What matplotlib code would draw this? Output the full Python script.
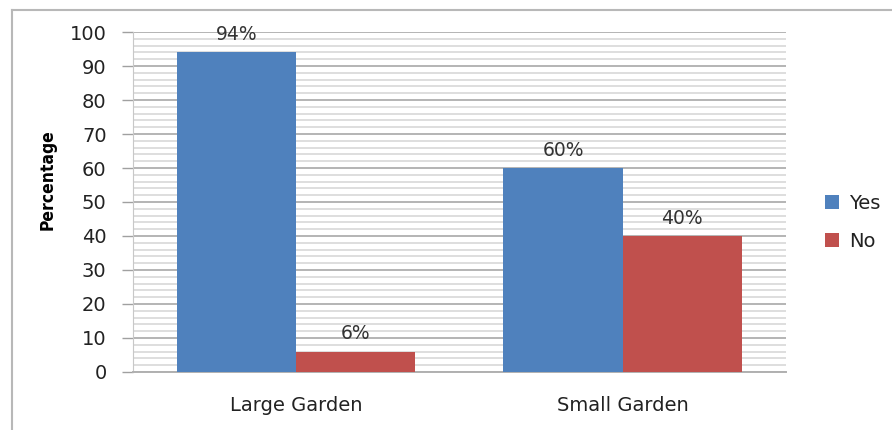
import matplotlib
matplotlib.use("Agg")
import matplotlib.pyplot as plt
from matplotlib.lines import Line2D
import numpy as np

categories = ["Large Garden", "Small Garden"]
yes_values = [94, 60]
no_values = [6, 40]
series_names = ["Yes", "No"]
y_ticks = [0, 10, 20, 30, 40, 50, 60, 70, 80, 90, 100]

plt.rcParams['font.family'] = ['DejaVu Sans']

fig = plt.figure(figsize=(8.92, 4.30), dpi=100)
ax = fig.add_axes([0.149, 0.135, 0.732, 0.7905])

x = np.arange(len(categories))
width = 0.365
blue = "#4f81bd"
red = "#c0504d"

b1 = ax.bar(x - width / 2, yes_values, width, color=blue, label=series_names[0], zorder=3)
b2 = ax.bar(x + width / 2, no_values, width, color=red, label=series_names[1], zorder=3)

for bars, vals in ((b1, yes_values), (b2, no_values)):
    for bar, v in zip(bars, vals):
        ax.annotate(f"{v}%", (bar.get_x() + bar.get_width() / 2, v),
                    xytext=(0, 6), textcoords="offset points",
                    ha="center", va="bottom", fontsize=13.5, color="#333333", zorder=4)

ax.set_xlim(-0.5, 1.5)
ax.set_ylim(0, 100)
ax.set_yticks(y_ticks)
ax.set_yticks(np.arange(0, 101, 2), minor=True)
ax.set_xticks(x)
ax.set_xticklabels(categories, fontsize=14, color="#222222")
ax.tick_params(axis="y", which="major", labelsize=14, labelcolor="#222222",
               length=8, color="#a0a0a0", width=1, pad=11)
ax.tick_params(axis="y", which="minor", length=0)
ax.tick_params(axis="x", length=0, pad=17)

ax.grid(axis="y", which="major", color="#b4b4b4", linewidth=1.4, zorder=0)
ax.grid(axis="y", which="minor", color="#d8d8d8", linewidth=1.2, zorder=0)
ax.set_axisbelow(True)

for side in ("top", "right"):
    ax.spines[side].set_visible(False)
ax.spines["left"].set_color("#c8c8c8")
ax.spines["bottom"].set_color("#b0b0b0")
ax.spines["bottom"].set_linewidth(1.4)

ax.set_ylabel("Percentage", fontsize=12.5, fontweight="bold",
              fontstretch="condensed")
ax.yaxis.set_label_coords(-0.117, 0.565)

leg = ax.legend(loc="center left", bbox_to_anchor=(1.033, 0.44), frameon=False,
                fontsize=14, handlelength=0.75, handleheight=0.75,
                handletextpad=0.5, labelspacing=1.0)
for t in leg.get_texts():
    t.set_color("#222222")

# outer chart frame (top and left edges)
fig.add_artist(Line2D([12 / 892, 1.0], [1 - 10 / 430, 1 - 10 / 430],
                      transform=fig.transFigure, color="#b8b8b8", linewidth=1.5))
fig.add_artist(Line2D([12 / 892, 12 / 892], [0, 1 - 10 / 430],
                      transform=fig.transFigure, color="#b8b8b8", linewidth=1.5))

fig.savefig("out.png", dpi=100)
